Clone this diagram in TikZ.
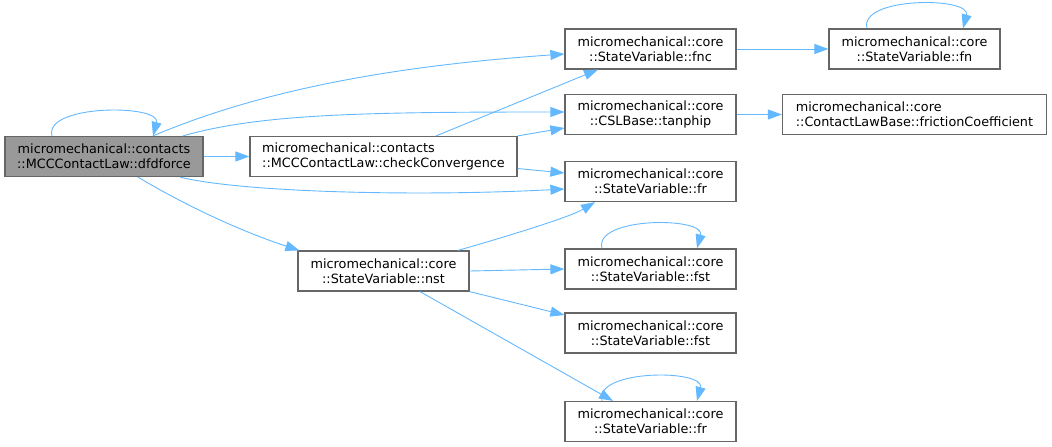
\documentclass[tikz,border=0pt]{standalone}
\usepackage{fontspec}
\setmainfont{DejaVu Sans}
\usetikzlibrary{arrows.meta}
\definecolor{edgeblue}{HTML}{63B8FF}
\definecolor{boxgray}{HTML}{666666}
\definecolor{curfill}{HTML}{999999}

\begin{document}
\begin{tikzpicture}[x=1pt,y=-1pt,->,>={Triangle[length=14pt,width=10pt]},draw=edgeblue,line width=0.9pt,node distance=264pt,font=\fontsize{12.8}{14.7}\selectfont]
\tikzstyle{fnnode}=[draw=boxgray,line width=1.2pt,fill=white,text=black,minimum height=40pt,minimum width=171pt,inner sep=0pt,align=center]
\tikzstyle{curnode}=[fnnode,fill=curfill,minimum width=198pt]
\useasboundingbox (0,0) rectangle (1052,447);
\node[curnode] (dfdforce) at (104,156.5) {micromechanical::contacts\\::MCCContactLaw::dfdforce};
\node[fnnode,minimum width=267pt,align=left] (checkConv) at (383.5,156.5) {micromechanical::contacts\\::MCCContactLaw::checkConvergence};
\node[fnnode] (nst) at (383.5,271) {micromechanical::core\\::StateVariable::nst};
\node[fnnode] (fnc) at (650.5,49) {micromechanical::core\\::StateVariable::fnc};
\node[fnnode] (tanphip) at (650.5,114.5) {micromechanical::core\\::CSLBase::tanphip};
\node[fnnode] (fr) at (650.5,181.5) {micromechanical::core\\::StateVariable::fr};
\node[fnnode][right of=fnc] (fn) {micromechanical::core\\::StateVariable::fn};
\node[fnnode,minimum width=264pt,align=left][right of=tanphip] (fricCoef) {micromechanical::core\\::ContactLawBase::frictionCoefficient};
\node[fnnode] (fst) at (650.5,269) {micromechanical::core\\::StateVariable::fst};
\node[fnnode] (fstb) at (650.5,333) {micromechanical::core\\::StateVariable::fst};
\node[fnnode] (frb) at (650.5,421.5) {micromechanical::core\\::StateVariable::fr};
\path ([xshift=-52pt]dfdforce.north) edge [out=105,in=75,distance=33pt] ([xshift=49pt]dfdforce.north)
      ([xshift=49pt]dfdforce.north) edge [out=23,in=184,out distance=130pt,in distance=150pt] ([yshift=-5pt]fnc.west)
      ([xshift=79pt]dfdforce.north) edge [out=16,in=180,out distance=80pt,in distance=200pt] ([yshift=2.5pt]tanphip.west)
      (dfdforce.east) edge (checkConv.west)
      ([xshift=76pt]dfdforce.south) edge [out=-14,in=183,out distance=62pt,in distance=150pt] ([yshift=-7.5pt]fr.west)
      ([xshift=34pt]dfdforce.south) edge [out=-31,in=162,distance=58pt] ([xshift=2pt]nst.north west)
      ([xshift=52.5pt]checkConv.north) edge ([xshift=-52.5pt]fnc.south)
      (checkConv.north east) edge ([yshift=-13.5pt]tanphip.west)
      ([yshift=-12pt]checkConv.east) edge ([yshift=8.5pt]fr.west)
      ([xshift=74.5pt]nst.north) edge [out=16,in=211,out distance=52pt,in distance=29pt] ([xshift=-55.5pt]fr.south)
      (nst.east) edge (fst.west)
      (nst.south east) edge ([yshift=18pt]fstb.west)
      ([xshift=36.5pt]nst.south) edge ([xshift=-37.5pt]frb.north)
      (fnc.east) edge (fn.west)
      (tanphip.east) edge (fricCoef.west)
      ([xshift=-47.5pt]fn.north) edge [out=105,in=75,distance=33pt] ([xshift=48.5pt]fn.north)
      ([xshift=-48.5pt]fst.north) edge [out=105,in=75,distance=33pt] ([xshift=46.5pt]fst.north)
      ([xshift=-48.5pt]frb.north) edge [out=105,in=75,distance=33pt] ([xshift=46.5pt]frb.north);
\end{tikzpicture}
\end{document}
